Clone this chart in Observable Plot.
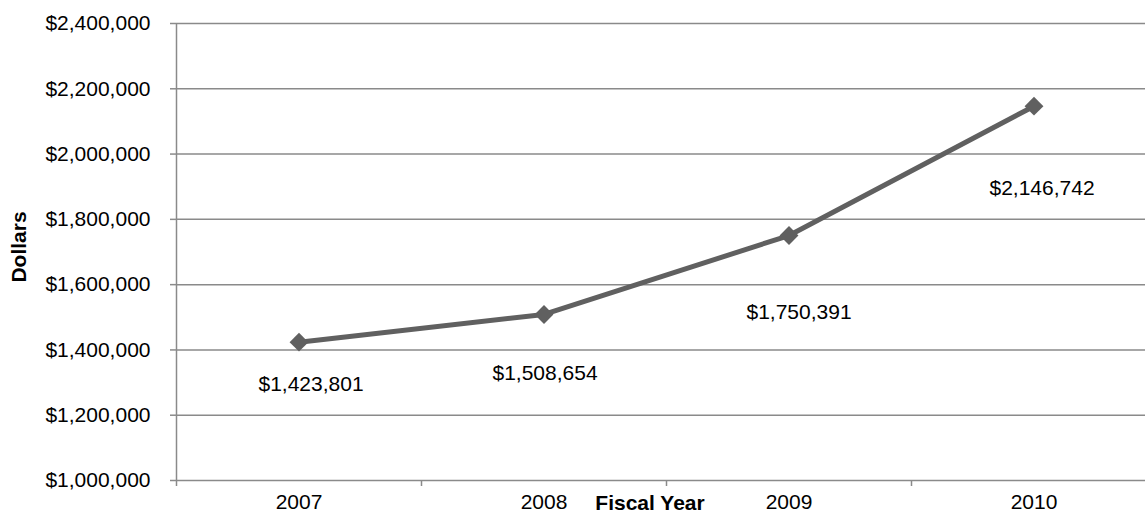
<!DOCTYPE html>
<html>
<head>
<meta charset="utf-8">
<script src="https://cdn.jsdelivr.net/npm/d3@7"></script>
<script src="https://cdn.jsdelivr.net/npm/@observablehq/plot@0.6"></script>
<style>
  html, body { margin: 0; padding: 0; background: #fff; overflow: hidden; }
</style>
</head>
<body>
<div id="chart"></div>
<script>
const years = [2007, 2008, 2009, 2010];
const dollars = [1423801, 1508654, 1750391, 2146742];
const yTicks = [1000000, 1200000, 1400000, 1600000, 1800000, 2000000, 2200000, 2400000];
const boundaryTicks = [2006.5, 2007.5, 2008.5, 2009.5];

const data = years.map((year, i) => ({year, value: dollars[i], label: d3.format("$,")(dollars[i])}));

const gray = "#8a8a8a";
const lineColor = "#606060";
const labelOffsets = [[12, 42], [1, 59], [10, 77], [8, 82]];

const labelMarks = data.map((d, i) =>
  Plot.text([d], {x: "year", y: "value", text: "label", dx: labelOffsets[i][0], dy: labelOffsets[i][1], fill: "black"})
);

const chart = Plot.plot({
  width: 1145,
  height: 515,
  marginLeft: 176,
  marginRight: 0,
  marginTop: 23,
  marginBottom: 35,
  style: {fontFamily: "'Liberation Sans', Arial, sans-serif", fontSize: "21px", background: "white", color: "black"},
  x: {type: "linear", domain: [2006.5, 2010.5], range: [176, 1156]},
  y: {domain: [1000000, 2400000], range: [480, 23]},
  marks: [
    Plot.ruleY(yTicks, {stroke: gray, strokeWidth: 1.5}),
    Plot.ruleX([2006.5], {y1: 1000000, y2: 2400000, stroke: gray, strokeWidth: 1.5}),
    Plot.axisY({ticks: yTicks, tickSize: 6, tickPadding: 20, tickFormat: d3.format("$,"), stroke: gray, strokeWidth: 1.5, fill: "black", label: null}),
    Plot.axisX({ticks: boundaryTicks, tickSize: 6, tickFormat: () => "", stroke: gray, strokeWidth: 1.5, label: null}),
    Plot.axisX({ticks: years, tickSize: 0, tickPadding: 14, tickFormat: d => String(d), fill: "black", label: null}),
    Plot.line(data, {x: "year", y: "value", stroke: lineColor, strokeWidth: 5}),
    Plot.dot(data, {x: "year", y: "value", symbol: "diamond2", r: 8.5, fill: lineColor, stroke: "none"}),
    ...labelMarks,
    Plot.text(["Fiscal Year"], {frameAnchor: "bottom", dx: -11, dy: 29, fontWeight: "bold", fill: "black"}),
    Plot.text(["Dollars"], {frameAnchor: "left", textAnchor: "middle", rotate: -90, dx: -157, dy: -5, fontWeight: "bold", fill: "black"})
  ]
});
document.getElementById("chart").appendChild(chart);
</script>
</body>
</html>
